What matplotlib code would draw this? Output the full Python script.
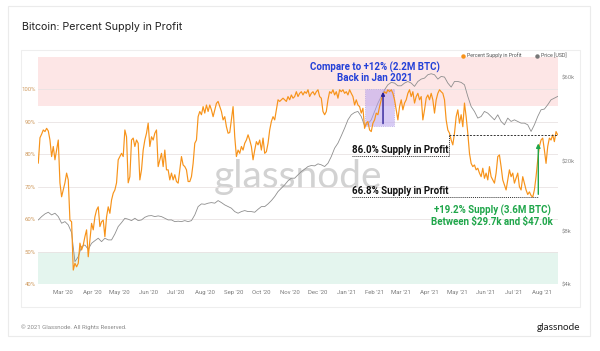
import numpy as np
import pandas as pd
import matplotlib
matplotlib.use('Agg')
import matplotlib.pyplot as plt
from matplotlib.patches import Rectangle
from matplotlib.lines import Line2D

start_date = '2020-02-03'
end_date = '2021-08-18'

# percent of BTC supply in profit (evenly spaced in time)
supply_in_profit = [
    77.3, 85.1, 86.2, 87.5, 87.0, 88.0, 87.2, 84.4, 79.3, 82.4, 78.3, 81.3, 84.4, 71.2, 66.9, 69.0,
    71.2, 74.2, 72.1, 59.7, 59.2, 44.3, 46.4, 45.3, 46.4, 52.6, 50.5, 52.0, 54.6, 56.7, 48.4, 53.6,
    58.7, 56.7, 60.7, 62.8, 63.8, 57.7, 59.2, 59.7, 54.6, 60.7, 63.8, 61.8, 65.9, 68.0, 69.0, 71.2,
    78.3, 79.3, 80.3, 79.3, 87.5, 85.4, 71.2, 73.1, 84.4, 85.0, 82.4, 84.4, 83.4, 72.1, 75.2, 81.3,
    84.4, 86.5, 89.6, 82.4, 85.4, 84.4, 86.5, 87.5, 76.2, 78.3, 80.3, 76.2, 81.3, 75.2, 75.2, 72.1,
    74.2, 72.1, 73.7, 71.6, 71.1, 75.2, 79.3, 76.7, 76.2, 75.2, 71.6, 71.6, 73.1, 77.2, 83.4, 84.4,
    91.6, 93.2, 92.2, 94.7, 92.7, 95.2, 93.2, 95.2, 93.7, 91.6, 93.7, 95.7, 96.3, 94.7, 93.2, 90.6,
    91.6, 88.5, 86.5,
    86.7, 90.7, 94.7, 85.4, 79.3, 81.3, 80.3, 82.4, 81.3, 83.4, 84.4, 86.0, 84.4, 82.4, 78.3, 81.3,
    83.9, 82.9, 84.4, 81.3, 85.0, 80.3, 80.8, 83.4, 87.5, 90.1, 91.6, 90.6, 93.7, 96.8, 96.3, 96.8,
    97.3, 96.8, 96.3, 97.8, 96.8, 98.3, 97.3, 97.8, 99.3, 97.8, 98.8, 99.3, 98.3, 99.3, 98.8, 99.9,
    97.8, 98.8, 99.3, 98.3, 99.3, 99.9, 97.8, 97.3, 93.2, 92.2, 93.2, 96.8, 99.3, 98.8, 99.9, 98.3,
    99.3, 97.3, 99.9, 99.3, 99.9, 98.8, 99.3, 98.3, 99.9, 98.8, 97.8, 95.2, 96.8, 95.2, 94.7, 92.7,
    94.2, 88.0, 89.6, 90.1, 87.5, 87.0, 89.6, 90.6, 92.7, 92.2, 94.7, 96.8, 98.3, 99.3, 98.8, 99.9,
    99.3, 99.9, 98.8, 96.8, 93.7, 90.6,
    94.7, 96.8, 93.7, 95.8, 96.8, 98.8, 99.9, 97.8, 99.3, 95.8, 97.8, 98.8, 96.8, 97.8, 90.6, 93.7,
    97.3, 98.3, 96.8, 98.8, 96.8, 92.7, 96.8, 98.8, 99.9, 99.3, 98.8, 96.8, 90.6, 87.5, 86.5, 84.4,
    82.9, 86.5, 91.6, 93.7, 89.6, 92.2, 88.5, 95.8, 91.6, 86.5, 80.3, 77.2, 76.2, 76.7, 75.2, 75.7,
    74.2, 73.1, 75.7, 72.6, 74.2, 72.1, 76.2, 73.1, 72.1, 71.1, 74.2, 79.3, 79.8, 76.2, 72.1, 70.5,
    69.0, 72.1, 75.2, 73.1, 74.2, 71.1, 72.6, 74.2, 70.0, 69.0, 73.1, 71.1, 69.0, 67.6, 68.4, 67.3,
    66.8, 69.0, 73.1, 78.3, 82.4, 84.4, 85.0, 81.3, 77.2, 82.4, 85.0, 84.4, 86.0, 83.9, 87.0, 86.0,
]

# BTC price in USD (evenly spaced in time)
price_usd = [
    9285, 9700, 10050, 10270, 9915, 10140, 9700, 8890, 9080, 8700, 7860, 5365, 5730, 6540, 6680,
    6310, 6830, 7070, 7300, 6980, 7300, 7140, 7140, 7720, 8510, 8960, 9490, 9370, 9200, 9490,
    9200, 9285, 9615, 9790, 9830, 9700, 9790, 9700, 9490, 9285, 9285, 9080, 9130, 9080, 9200,
    9080, 9200, 9915, 11060, 11460, 11400, 11570, 11660, 11570, 11970, 11660, 11310, 11060,
    10830, 10360, 10140, 10360, 10500, 10360, 10360, 10270, 10680, 11060, 11060, 11460, 11970,
    12620, 13480, 14080, 14720, 15520, 16070, 16070, 16790, 17540, 18080, 18730, 18980, 18890,
    19400, 19150, 18730, 19560, 21360, 23840, 25470, 28040, 31010, 34600, 36970, 38110, 38630,
    36150, 31970, 32810, 34600, 38630, 43100, 47060, 51370, 54840, 56570, 56080, 54110,
    54110, 56080, 57270, 56080, 53690, 57270, 59100, 59850, 62570, 63400, 62570, 59100, 61200,
    60680, 56080, 53200, 57270, 57270, 56570, 54840, 47060, 41230, 38630, 35390, 36150, 38630,
    37770, 36150, 34600, 36970, 33870, 32410, 35390, 33870, 34600, 33870, 33130, 33130, 32410,
    29700, 32410, 36150, 39480, 39860, 42170, 45000, 46050, 47060,
]

month_ticks = pd.date_range('2020-03-01', '2021-08-01', freq='MS')
pct_ticks = [40, 50, 60, 70, 80, 90, 100]
price_ticks = [4000, 8000, 20000, 60000]
price_labels = ['$4k', '$8k', '$20k', '$60k']

supply_dates = pd.date_range(start_date, end_date, periods=len(supply_in_profit))
price_dates = pd.date_range(start_date, end_date, periods=len(price_usd))

ORANGE = '#f7931a'
GRAY = '#8e8e8e'

fig = plt.figure(figsize=(6, 3.51), dpi=100)
W, H = 600, 351

def fx(px):
    return px / W

def fy(py):
    return 1 - py / H

# card + inner chart frame
fig.patches.append(Rectangle((fx(8), fy(336)), fx(582), 330 / H, transform=fig.transFigure,
                             fc='white', ec='#ebebeb', lw=0.8, zorder=-5))
fig.patches.append(Rectangle((fx(21), fy(307)), fx(559), 257 / H, transform=fig.transFigure,
                             fc='none', ec='#eeeeee', lw=0.8, zorder=-4))

fig.text(fx(21.5), fy(27), 'Bitcoin: Percent Supply in Profit', fontsize=7.7,
         family='Inter', color='#222222', va='center', ha='left')
fig.text(fx(21), fy(327.5), '\u00a9 2021 Glassnode. All Rights Reserved.', fontsize=4.3,
         family='Roboto', color='#8a8a8a', va='center', ha='left')
fig.text(fx(580), fy(327), 'glassnode', fontsize=7.2, family='Lato', color='#1f1f1f',
         va='center', ha='right')

ax = fig.add_axes([fx(38.3), fy(284), fx(519.4), 227 / H])
ax.set_xlim(pd.Timestamp(start_date), pd.Timestamp(end_date))
ax.set_ylim(40, 110)
ax.axhspan(95, 110, color='#fde6e6', lw=0, zorder=0)
ax.axhspan(40, 50, color='#e4f5ee', lw=0, zorder=0)
ax.set_yticks(pct_ticks)
ax.set_yticklabels([f'{v}%' for v in pct_ticks])
ax.grid(axis='y', color='#e9e3e3', lw=0.6, zorder=0.5)
ax.tick_params(axis='y', length=0, pad=2, labelsize=4.3, labelcolor='#cf9a5e')
ax.set_xticks(month_ticks)
ax.set_xticklabels([d.strftime("%b '%y") for d in month_ticks])
ax.tick_params(axis='x', length=0, pad=4, labelsize=4.3, labelcolor='#7a7a7a')
for lab in ax.get_xticklabels() + ax.get_yticklabels():
    lab.set_family('Roboto')
for s in ax.spines.values():
    s.set_visible(False)
ax.text(0.5, 0.47, 'glassnode', transform=ax.transAxes, fontsize=28, family='Lato',
        color='#d2d2d2', ha='center', va='center', zorder=0.6)

ax2 = ax.twinx()
ax2.set_yscale('log')
ax2.set_ylim(4000, 79000)
ax2.plot(price_dates, price_usd, color=GRAY, lw=0.6)
ax2.yaxis.set_major_locator(matplotlib.ticker.FixedLocator(price_ticks))
ax2.yaxis.set_minor_locator(matplotlib.ticker.NullLocator())
ax2.set_yticklabels(price_labels)
ax2.tick_params(axis='y', length=0, pad=3, labelsize=4.3, labelcolor='#8a8a8a')
for lab in ax2.get_yticklabels():
    lab.set_family('Roboto')
for s in ax2.spines.values():
    s.set_visible(False)

ax3 = ax.twinx()
ax3.set_ylim(40, 110)
ax3.set_yticks([])
for s in ax3.spines.values():
    s.set_visible(False)
ax3.plot(supply_dates, supply_in_profit, color=ORANGE, lw=0.85, zorder=3)

# Jan 2021 highlight
box_x0, box_x1 = pd.Timestamp('2021-01-21'), pd.Timestamp('2021-02-22')
ax3.add_patch(Rectangle((box_x0, 88.6), box_x1 - box_x0, 11.5, fc='#b9a2ee', alpha=0.55,
                        ec='#8f7bd6', ls=':', lw=0.6, zorder=2))
ax3.annotate('', xy=(pd.Timestamp('2021-02-10'), 100.1), xytext=(pd.Timestamp('2021-02-10'), 88.6),
             arrowprops=dict(arrowstyle='-|>', color='#2c1f98', lw=1.0, mutation_scale=5), zorder=4)
ax3.text(pd.Timestamp('2021-02-01'), 105.2, 'Compare to +12% (2.2M BTC)\nBack in Jan 2021',
         ha='center', va='center', fontsize=7, fontweight='bold', family='Roboto',
         color='#2340d8', linespacing=1.05, zorder=5)

# 86.0% marker
x_text = pd.Timestamp('2021-01-07')
x_86 = pd.Timestamp('2021-04-22')
ax3.plot([x_text, x_86], [79.6, 79.6], color='#333333', ls=(0, (1, 1)), lw=0.7, zorder=4)
ax3.plot([x_86, x_86], [79.6, 86.0], color='#333333', ls=(0, (1, 1)), lw=0.7, zorder=4)
ax3.plot([x_86, pd.Timestamp(end_date)], [86.0, 86.0], color='#333333', ls=(0, (2, 1.5)),
         lw=0.7, zorder=4)
ax3.text(x_text, 79.8, '86.0% Supply in Profit', ha='left', va='bottom', fontsize=7,
         fontweight='bold', family='Roboto', color='#111111', zorder=5)

# 66.8% marker
x_low = pd.Timestamp('2021-07-28')
ax3.plot([x_text, x_low], [66.8, 66.8], color='#333333', ls=(0, (1, 1)), lw=0.7, zorder=4)
ax3.text(x_text, 67.0, '66.8% Supply in Profit', ha='left', va='bottom', fontsize=7,
         fontweight='bold', family='Roboto', color='#111111', zorder=5)
ax3.annotate('', xy=(x_low, 84.2), xytext=(x_low, 66.8),
             arrowprops=dict(arrowstyle='-|>', color='#1fa64a', lw=1.0, mutation_scale=6), zorder=4)
ax3.text(pd.Timestamp('2021-06-08'), 61.0,
         '+19.2% Supply (3.6M BTC)\nBetween \\$29.7k and \\$47.0k',
         ha='center', va='center', fontsize=7, fontweight='bold', family='Roboto',
         color='#1fa64a', linespacing=1.15, zorder=5)

handles = [Line2D([], [], marker='o', ls='', color=ORANGE, markersize=2.2),
           Line2D([], [], marker='o', ls='', color='#777777', markersize=2.2)]
leg = fig.legend(handles, ['Percent Supply in Profit', 'Price [USD]'], loc='center right',
                 bbox_to_anchor=(fx(569), fy(55.5)), ncol=2, frameon=False, fontsize=3.8,
                 handletextpad=0.3, columnspacing=2.6, borderpad=0, handlelength=0.8)
for t in leg.get_texts():
    t.set_color('#555555')
    t.set_family('Roboto')

fig.savefig('out.png', dpi=100)
